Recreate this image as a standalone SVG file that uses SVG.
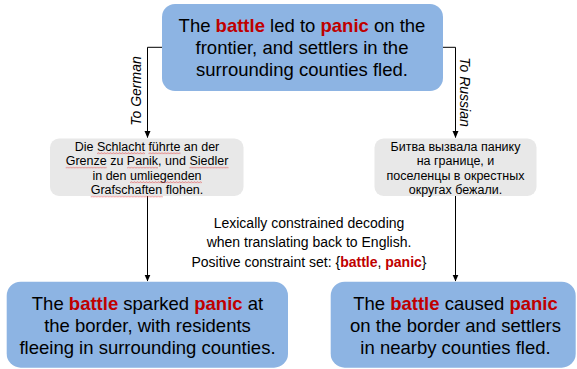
<svg xmlns="http://www.w3.org/2000/svg" width="577" height="369" viewBox="0 0 577 369">
<style>
.blue{fill:#8db4e3;}
.gray{fill:#e8e8e8;}
.big{font-family:"Liberation Sans",Arial,sans-serif;font-size:18.5px;fill:#000;text-anchor:middle;}
.small{font-family:"Liberation Sans",Arial,sans-serif;font-size:12.5px;fill:#000;text-anchor:middle;}
.mid{font-family:"Liberation Sans",Arial,sans-serif;font-size:14px;fill:#000;text-anchor:middle;}
.lab{font-family:"Liberation Sans",Arial,sans-serif;font-size:14px;font-style:italic;fill:#000;text-anchor:middle;}
.kw{font-weight:bold;fill:#c00000;}
.conn{fill:none;stroke:#000;stroke-width:1;}
.wv{fill:url(#wavy);}
</style>
<defs>
<marker id="arr" markerWidth="7" markerHeight="7" refX="6.5" refY="3.5" orient="auto" markerUnits="userSpaceOnUse">
<path d="M0,0.5 L7,3.5 L0,6.5 Z" fill="#000"/>
</marker>
<pattern id="wavy" width="3" height="2.6" patternUnits="userSpaceOnUse">
<path d="M0,2 L1.5,0.6 L3,2" fill="none" stroke="#e04040" stroke-width="0.7"/>
</pattern>
</defs>
<g id="connectors">
<path class="conn" d="M162,47.3 H147.5 V137.5" marker-end="url(#arr)"/>
<path class="conn" d="M443,47.3 H455.5 V137.5" marker-end="url(#arr)"/>
<path class="conn" d="M147.5,196 V281" marker-end="url(#arr)"/>
<path class="conn" d="M455.5,196 V281" marker-end="url(#arr)"/>
<text class="lab" transform="translate(140.5,91) rotate(-90)">To German</text>
<text class="lab" transform="translate(460,92) rotate(90)">To Russian</text>
</g>
<g id="source">
<rect class="blue" x="162" y="4" width="281" height="87" rx="13"/>
<text class="big" x="302" y="31.5">The <tspan class="kw">battle</tspan> led to <tspan class="kw">panic</tspan> on the</text>
<text class="big" x="302" y="54">frontier, and settlers in the</text>
<text class="big" x="302" y="76">surrounding counties fled.</text>
</g>
<g id="german">
<rect class="gray" x="50" y="138.5" width="193.5" height="57.5" rx="9"/>
<text class="small" x="147" y="150.5">Die Schlacht führte an der</text>
<text class="small" x="147" y="165">Grenze zu Panik, und Siedler</text>
<text class="small" x="147" y="179.5">in den umliegenden</text>
<text class="small" x="147" y="194">Grafschaften flohen.</text>
<rect class="wv" transform="translate(97,152)" width="48" height="2.6"/>
<rect class="wv" transform="translate(148.5,152)" width="32" height="2.6"/>
<rect class="wv" transform="translate(65.7,166.5)" width="41" height="2.6"/>
<rect class="wv" transform="translate(127,166.5)" width="31" height="2.6"/>
<rect class="wv" transform="translate(189.5,166.5)" width="39" height="2.6"/>
<rect class="wv" transform="translate(130,181)" width="72" height="2.6"/>
<rect class="wv" transform="translate(90.7,195.5)" width="72" height="2.6"/>
</g>
<g id="russian">
<rect class="gray" x="374.5" y="138.5" width="162" height="57.5" rx="9"/>
<text class="small" x="455.5" y="150.5">Битва вызвала панику</text>
<text class="small" x="455.5" y="165">на границе, и</text>
<text class="small" x="455.5" y="179.5">поселенцы в окрестных</text>
<text class="small" x="455.5" y="194">округах бежали.</text>
</g>
<g id="note">
<text class="mid" x="309" y="227.5">Lexically constrained decoding</text>
<text class="mid" x="309" y="247">when translating back to English.</text>
<text class="mid" x="309" y="266.5">Positive constraint set: {<tspan class="kw">battle</tspan>, <tspan class="kw">panic</tspan>}</text>
</g>
<g id="back-german">
<rect class="blue" x="6.7" y="281.7" width="281.3" height="86" rx="14"/>
<text class="big" x="147.5" y="310">The <tspan class="kw">battle</tspan> sparked <tspan class="kw">panic</tspan> at</text>
<text class="big" x="147.5" y="332">the border, with residents</text>
<text class="big" x="147.5" y="354">fleeing in surrounding counties.</text>
</g>
<g id="back-russian">
<rect class="blue" x="330.7" y="281.7" width="245" height="86" rx="14"/>
<text class="big" x="455.5" y="310">The <tspan class="kw">battle</tspan> caused <tspan class="kw">panic</tspan></text>
<text class="big" x="455.5" y="332">on the border and settlers</text>
<text class="big" x="455.5" y="354">in nearby counties fled.</text>
</g>
</svg>
